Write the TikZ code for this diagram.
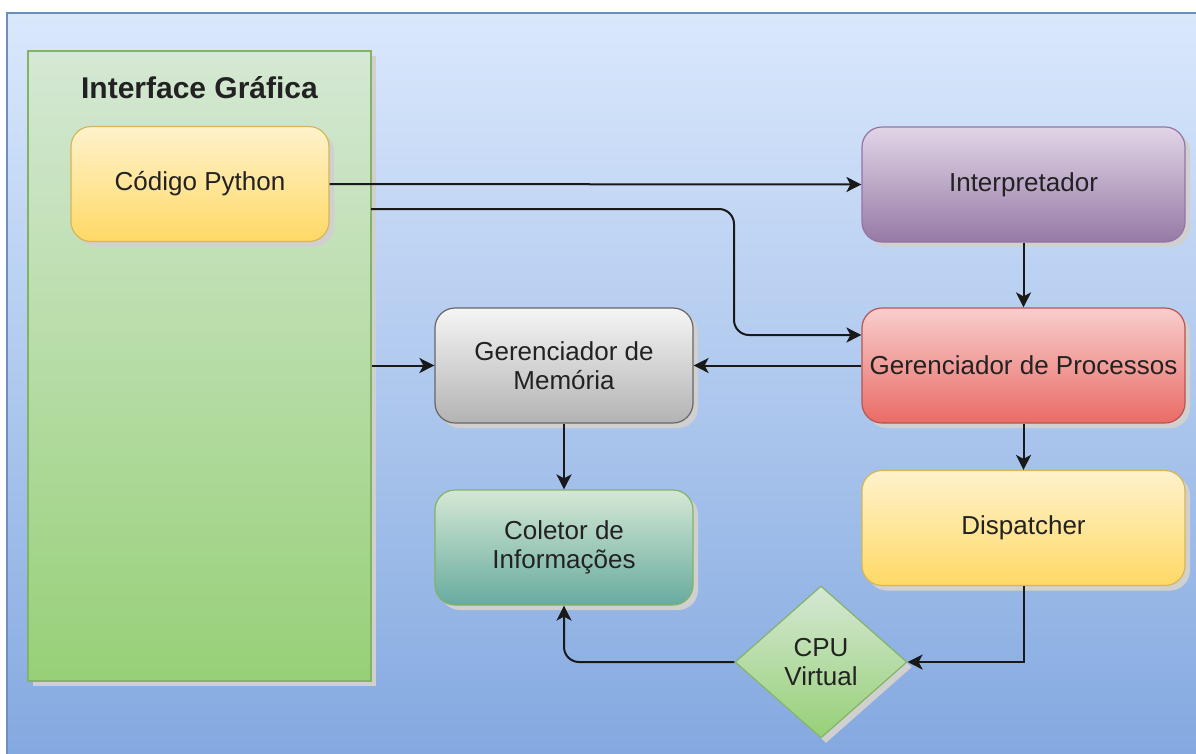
\documentclass[tikz,border=0pt]{standalone}
\usepackage{fontspec}
\setmainfont{Liberation Sans}
\usetikzlibrary{shapes.geometric,shadows,arrows.meta}
\definecolor{bgtop}{HTML}{DAE8FC}
\definecolor{bgbot}{HTML}{84A9E0}
\definecolor{bgline}{HTML}{6C8EBF}
\definecolor{shadowc}{HTML}{D0D0D0}
\definecolor{greentop}{HTML}{D5E8D4}
\definecolor{greenbot}{HTML}{97D077}
\definecolor{greenline}{HTML}{82B366}
\definecolor{yeltop}{HTML}{FFF2CC}
\definecolor{yelbot}{HTML}{FFD966}
\definecolor{yelline}{HTML}{D6B656}
\definecolor{purtop}{HTML}{E1D5E7}
\definecolor{purbot}{HTML}{967AA6}
\definecolor{purline}{HTML}{9673A6}
\definecolor{graytop}{HTML}{F5F5F5}
\definecolor{graybot}{HTML}{B3B3B3}
\definecolor{grayline}{HTML}{666666}
\definecolor{redtop}{HTML}{F8CECC}
\definecolor{redbot}{HTML}{EA6B66}
\definecolor{redline}{HTML}{B85450}
\definecolor{tealbot}{HTML}{67AB9F}
\definecolor{txt}{HTML}{222222}
\begin{document}
\begin{tikzpicture}[x=1pt,y=-1pt,
  shad/.style={drop shadow={shadow xshift=5pt,shadow yshift=-5pt,opacity=1,fill=shadowc}},
  box/.style={shad,rounded corners=20pt,draw,line width=1.2pt,minimum width=258pt,minimum height=115pt,
    inner sep=2pt,align=center,text=txt,font=\fontsize{26}{29}\selectfont},
  wbox/.style={box,minimum width=323pt},
  yel/.style={top color=yeltop,bottom color=yelbot,draw=yelline},
  conn/.style={draw=black!90,line width=2pt,-{Stealth[length=15pt,width=15pt,inset=4pt]}}
]
\clip (0,0) rectangle (1196,753);
% background
\path[top color=bgtop,bottom color=bgbot] (7,13) rectangle (1200,753);
\draw[bgline,line width=1.5pt] (7,760) -- (7,13) -- (1200,13);
% GUI panel
\node[shad,draw=greenline,line width=1.5pt,top color=greentop,bottom color=greenbot,
  minimum width=343pt,minimum height=630pt,inner sep=0pt] (gui) at (199.5,366) {};
\node[font=\bfseries\fontsize{30}{34}\selectfont,text=txt] (title) at (199.5,88) {Interface Gráfica};
% boxes
\node[box,yel] (cp) at (200,184) {Código Python};
\node[wbox,top color=purtop,bottom color=purbot,draw=purline] (interp) at (1023.5,184.5) {Interpretador};
\node[box,top color=graytop,bottom color=graybot,draw=grayline] (mem) at (564,365.5) {Gerenciador de\\Memória};
\node[wbox,top color=redtop,bottom color=redbot,draw=redline] (proc) at (1023.5,365.5) {Gerenciador de Processos};
\node[box,top color=greentop,bottom color=tealbot,draw=greenline] (col) at (564,547.5) {Coletor de\\Informações};
\node[wbox,yel] (disp) at (1023.5,528) {Dispatcher};
\node[shad,diamond,aspect=1.1316,minimum width=172pt,minimum height=152pt,inner sep=0pt,
  draw=greenline,line width=1.2pt,top color=greentop,bottom color=greenbot,align=center,text=txt,
  font=\fontsize{26}{29}\selectfont] (cpu) at (821,662) {CPU\\Virtual};
% connectors
\coordinate (s2) at (371,209);
\coordinate (j1) at (734,335);
\draw[conn] (cp.east) -- (interp.west);
\draw[conn,rounded corners=15pt] (s2) -| (j1) -- (j1 -| proc.west);
\draw[conn] (gui.east |- mem.west) -- (mem.west);
\draw[conn] (proc.west) -- (mem.east);
\draw[conn] (interp.south) -- (proc.north);
\draw[conn] (mem.south) -- (col.north);
\draw[conn] (proc.south) -- (disp.north);
\draw[conn] (disp.south) |- (cpu.east);
\draw[conn,rounded corners=15pt] (cpu.west) -| (col.south);
\end{tikzpicture}
\end{document}
